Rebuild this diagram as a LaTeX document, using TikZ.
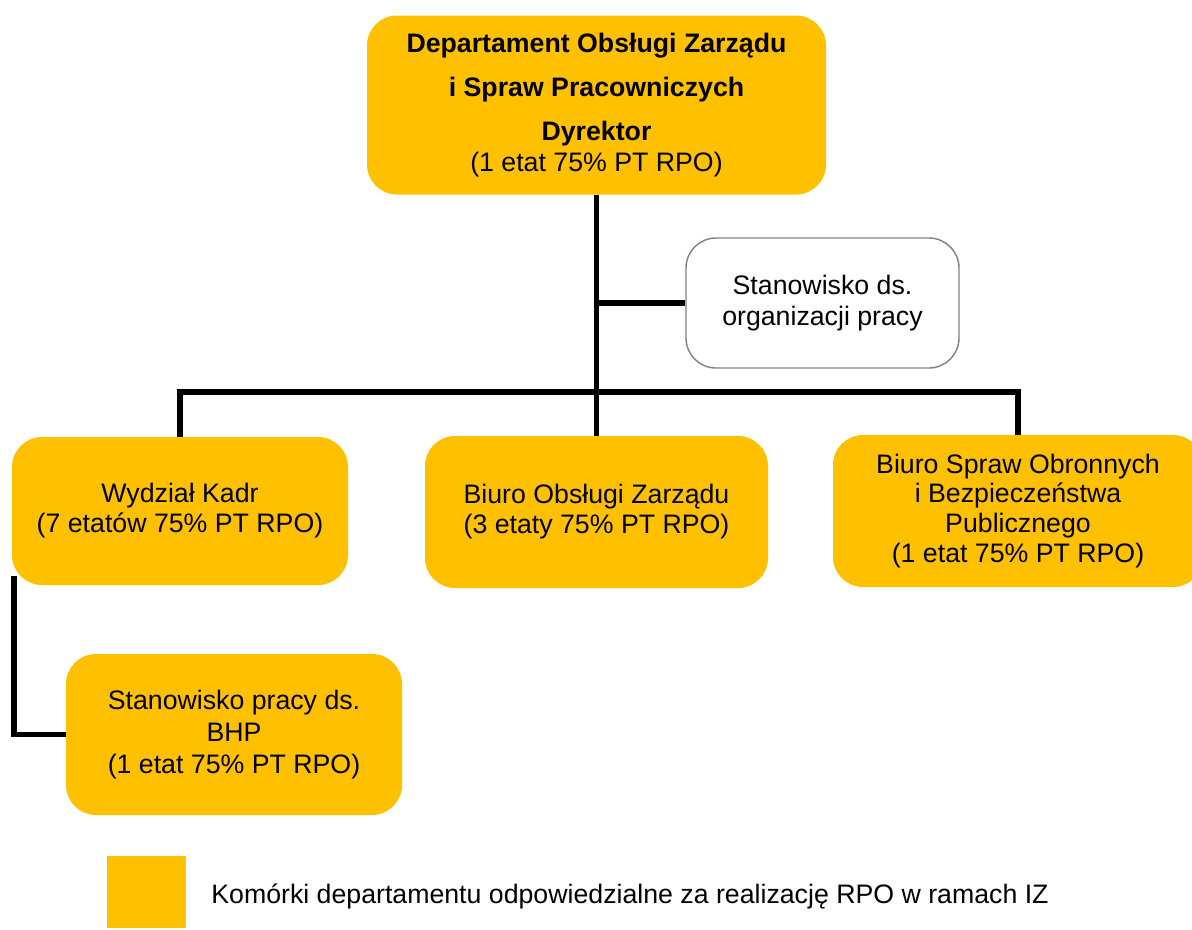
\documentclass[tikz,border=0pt]{standalone}
\usepackage{fontspec}
\setmainfont{Liberation Sans}
\definecolor{rpoorange}{HTML}{FFC000}
\definecolor{boxgray}{HTML}{808080}
\tikzset{
  orgbox/.style={fill=rpoorange, rounded corners=0.6cm, align=center, inner sep=0pt,
    font=\fontsize{15.2}{17}\selectfont},
  whitebox/.style={draw=boxgray, thick, fill=white, rounded corners=0.6cm, align=center,
    inner sep=0pt, font=\fontsize{15.2}{17}\selectfont},
  conn/.style={black, line width=3.3pt}
}
\begin{document}
\begin{tikzpicture}
  \useasboundingbox (0,0) rectangle (23.84,-18.58);
  % boxes
  \node[orgbox, minimum width=9.18cm, minimum height=3.58cm] (dyr) at (11.93,-2.1)
    {\textbf{Departament Obsługi Zarządu}\\[8pt]\textbf{i Spraw Pracowniczych}\\[8pt]\textbf{Dyrektor}\\[1pt](1 etat 75\% PT RPO)};
  \node[whitebox, minimum width=5.46cm, minimum height=2.6cm] (org) at (16.45,-6.06)
    {Stanowisko ds.\\[1pt]organizacji pracy};
  \node[orgbox, minimum width=6.72cm, minimum height=2.96cm] (wk) at (3.6,-10.22)
    {Wydział Kadr\\(7 etatów 75\% PT RPO)};
  \node[orgbox, minimum width=6.86cm, minimum height=3.04cm] (boz) at (11.93,-10.24)
    {Biuro Obsługi Zarządu\\(3 etaty 75\% PT RPO)};
  \node[orgbox, minimum width=7.4cm, minimum height=3.04cm] (bso) at (20.36,-10.22)
    {Biuro Spraw Obronnych\\i Bezpieczeństwa\\Publicznego\\(1 etat 75\% PT RPO)};
  \node[orgbox, minimum width=6.72cm, minimum height=3.22cm] (bhp) at (4.68,-14.69)
    {Stanowisko pracy ds.\\[1pt]BHP\\[1pt](1 etat 75\% PT RPO)};
  % connectors
  \coordinate (bar) at (0,-7.84);
  \coordinate (wkl) at (0.28,-11.52);
  \draw[conn] (dyr.south) -- (boz.north);
  \draw[conn] (dyr.south |- org.west) -- (org.west);
  \draw[conn] (wk.north) -- (wk.north |- bar) -- (bso.north |- bar) -- (bso.north);
  \draw[conn] (wkl) -- (wkl |- bhp.west) -- (bhp.west);
  % legend
  \node[fill=rpoorange, minimum width=1.58cm, minimum height=1.44cm, inner sep=0pt] (leg) at (2.93,-17.84) {};
  \node[anchor=west, inner sep=0pt, font=\fontsize{15.2}{17}\selectfont] (legtext) at (4.22,-17.92)
    {Komórki departamentu odpowiedzialne za realizację RPO w ramach IZ};
\end{tikzpicture}
\end{document}
